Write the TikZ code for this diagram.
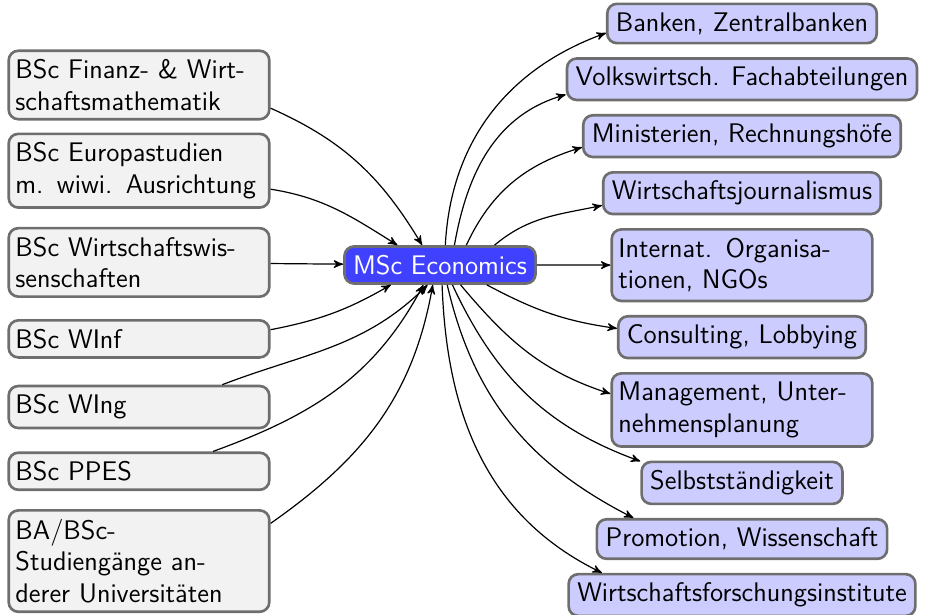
\documentclass[tikz,border=0pt]{standalone}
\usepackage{fontspec}
\usetikzlibrary{positioning,chains,arrows}

\begin{document}
\begin{tikzpicture}[
            x=0.4167pt, y=0.4167pt,
            font=\fontsize{11.2}{13.2}\selectfont\sffamily,
            every node/.style={ rounded corners=4pt, draw=black!57, line width=1.1pt, inner sep=3.6pt },
            breit/.style={ text width=103pt, inner xsep=2.8pt, align=left },
            studium/.style={ fill=black!5, breit },
            beruf/.style={ fill=blue!20 },
            ziel/.style={ fill=blue!75, text=white },
            pfeil/.style={ ->, >=stealth', line width=0.5pt },
            start chain=rechts going below,
            node distance=5.3pt
        ]
        \useasboundingbox (0,0) rectangle (928,-615);

        \node[studium] (fin) at (139,-85) {BSc Finanz- \& Wirt-\\schaftsmathematik};
        \node[studium, below=5pt of fin] (euro) {BSc Europastudien\\m. wiwi. Ausrichtung};
        \node[studium, below=7.5pt of euro] (wiwi) {BSc Wirtschaftswis-\\senschaften};
        \node[studium, below=8.8pt of wiwi] (winf) {BSc WInf};
        \node[studium, below=10.8pt of winf] (wing) {BSc WIng};
        \node[studium, below=9.2pt of wing] (ppes) {BSc PPES};
        \node[studium, below=7.5pt of ppes] (andere) {BA/BSc-\\Studiengänge an-\\derer Universitäten};

        \node[ziel] (msc) at (440,-265) {MSc Economics};

        \node[beruf, on chain=rechts] (banken) at (742,-23.5) {Banken, Zentralbanken};
        \node[beruf, on chain=rechts] (volk) {Volkswirtsch. Fachabteilungen};
        \node[beruf, on chain=rechts] (minist) {Ministerien, Rechnungshöfe};
        \node[beruf, on chain=rechts] (journ) {Wirtschaftsjournalismus};
        \node[beruf, on chain=rechts, breit] (intern) {Internat. Organisa-\\tionen, NGOs};
        \node[beruf, on chain=rechts] (consult) {Consulting, Lobbying};
        \node[beruf, on chain=rechts, breit] (manage) {Management, Unter-\\nehmensplanung};
        \node[beruf, on chain=rechts] (selbst) {Selbstständigkeit};
        \node[beruf, on chain=rechts] (promo) {Promotion, Wissenschaft};
        \node[beruf, on chain=rechts] (forsch) {Wirtschaftsforschungsinstitute};

        \draw[pfeil] (fin.350) to[out=-24, in=121] (msc.132);
        \draw[pfeil] (euro.352) to[out=-9, in=148] (msc.155);
        \draw[pfeil] (wiwi) -- (msc);
        \draw[pfeil] (winf.4) to[out=11, in=-150] (msc.202);
        \draw[pfeil] (wing.15) to[out=21, in=-135] (msc.238);
        \draw[pfeil] (ppes.15) to[out=20, in=-118] (msc.230);
        \draw[pfeil] (andere.16) to[out=35, in=-100] (msc.250);

        \draw[pfeil] (msc.75) to[out=87, in=200] (banken.184);
        \draw[pfeil] (msc.54) to[out=80, in=196] (volk.185);
        \draw[pfeil] (msc.37) to[out=65, in=197] (minist.184);
        \draw[pfeil] (msc.20) to[out=40, in=192] (journ.185);
        \draw[pfeil] (msc) -- (intern);
        \draw[pfeil] (msc.337) to[out=-28, in=172] (consult.176);
        \draw[pfeil] (msc.316) to[out=-50, in=162] (manage.173);
        \draw[pfeil] (msc.302) to[out=-65, in=160] (selbst.168);
        \draw[pfeil] (msc.290) to[out=-77, in=153] (promo.169);
        \draw[pfeil] (msc.276) to[out=-88, in=154] (forsch.171);
    \end{tikzpicture}
\end{document}
